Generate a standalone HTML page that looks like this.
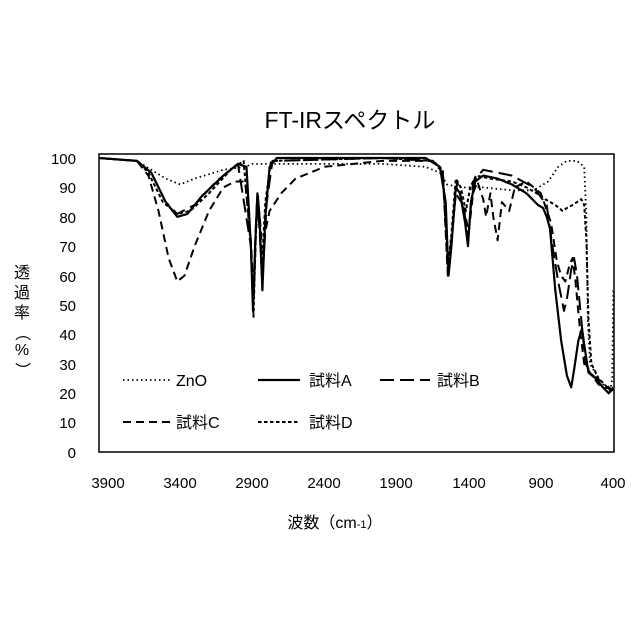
<!DOCTYPE html>
<html><head><meta charset="utf-8"><style>
body{margin:0;background:#fff;width:640px;height:640px;overflow:hidden}
svg{display:block}
text{font-family:"Liberation Sans","Noto Sans CJK JP",sans-serif;fill:#000}
</style></head><body>
<svg id="s" width="640" height="640" viewBox="0 0 640 640">
<rect x="99" y="154" width="515" height="298" fill="#fff" stroke="#000" stroke-width="1.5"/>
<text x="350" y="128" font-size="23" text-anchor="middle">FT-IRスペクトル</text>
<g font-size="15" text-anchor="end">
<text x="76" y="164">100</text><text x="76" y="193">90</text><text x="76" y="223">80</text><text x="76" y="252">70</text><text x="76" y="282">60</text><text x="76" y="311">50</text><text x="76" y="340">40</text><text x="76" y="370">30</text><text x="76" y="399">20</text><text x="76" y="428">10</text><text x="76" y="458">0</text>
</g>
<g font-size="15" text-anchor="middle">
<text x="108" y="488">3900</text><text x="180" y="488">3400</text><text x="252" y="488">2900</text><text x="324" y="488">2400</text><text x="396" y="488">1900</text><text x="469" y="488">1400</text><text x="541" y="488">900</text><text x="613" y="488">400</text>
</g>
<text x="335" y="528" font-size="16" text-anchor="middle">波数（cm<tspan font-size="11">-1</tspan>）</text>
<g font-size="16" text-anchor="middle">
<text x="22" y="278">透</text><text x="22" y="298">過</text><text x="22" y="318">率</text><text x="22" y="338" transform="rotate(90 22 333)">（</text><text x="22" y="355">%</text><text x="22" y="375" transform="rotate(90 22 370)">）</text>
</g>
<g stroke="#000" fill="none">
<line x1="123" y1="380" x2="170" y2="380" stroke-width="1.8" stroke-dasharray="1.5 3"/>
<line x1="258" y1="380" x2="300" y2="380" stroke-width="2.2"/>
<line x1="380" y1="380" x2="430" y2="380" stroke-width="2" stroke-dasharray="14 6"/>
<line x1="123" y1="422" x2="170" y2="422" stroke-width="2" stroke-dasharray="8 5"/>
<line x1="258" y1="422" x2="300" y2="422" stroke-width="2" stroke-dasharray="3.5 2.5"/>
</g>
<g font-size="16">
<text x="176" y="386">ZnO</text><text x="309" y="386">試料A</text><text x="437" y="386">試料B</text>
<text x="176" y="428">試料C</text><text x="309" y="428">試料D</text>
</g>
<g id="c" fill="none" stroke="#000" stroke-linejoin="round"></g>
</svg>
<script>
function X(w){return 108+(3900-w)*0.1443}
function Y(t){return 452-t*2.94}
var series=[
{d:"1.5 3",w:1.8,s:0,p:[[3960,100],[3700,99],[3600,96],[3500,93],[3400,91],[3300,93],[3100,96],[2950,97],[2900,98],[2500,98],[2000,98],[1700,97],[1600,95],[1550,91],[1450,90],[1300,90],[1100,89],[950,89],[850,92],[780,97],[720,99],[650,99],[600,97],[585,80],[575,45],[560,30],[500,25],[450,22],[420,21],[405,25],[398,55]]},
{d:"",w:2.2,p:[[3960,100],[3700,99],[3600,95],[3500,85],[3420,80],[3350,81],[3250,87],[3100,94],[3000,98],[2940,97],[2910,70],[2895,48],[2880,70],[2865,88],[2850,80],[2830,55],[2810,80],[2780,97],[2730,100],[2000,100],[1700,100],[1600,97],[1560,85],[1540,60],[1520,70],[1490,90],[1460,88],[1425,78],[1405,70],[1385,85],[1355,92],[1300,94],[1200,93],[1100,91],[1000,88],[920,84],[885,83],[860,80],[837,76],[800,55],[760,38],[720,26],[690,22],[670,28],[640,38],[615,42],[595,35],[570,27],[520,25],[470,22],[430,20],[410,21],[398,22]]},
{d:"14 6",w:2,p:[[3960,100],[3700,99],[3600,95],[3500,85],[3420,81],[3300,84],[3150,92],[3000,98],[2910,70],[2895,50],[2880,72],[2865,88],[2830,58],[2800,85],[2760,99],[2000,100],[1650,99],[1580,95],[1540,62],[1510,78],[1480,92],[1425,80],[1405,72],[1370,92],[1300,96],[1100,94],[950,90],[860,84],[820,70],[780,58],[740,48],[720,52],[690,62],[670,66],[650,60],[620,45],[590,30],[540,26],[480,24],[430,22],[398,21]]},
{d:"8 5",w:2,p:[[3960,100],[3700,99],[3620,94],[3550,82],[3480,66],[3420,58],[3370,60],[3300,70],[3200,82],[3100,90],[3020,92],[2950,92],[2910,72],[2890,52],[2875,75],[2860,86],[2840,75],[2830,60],[2810,75],[2780,82],[2700,88],[2600,93],[2400,97],[2200,98],[2000,99],[1650,99],[1580,95],[1545,60],[1520,72],[1490,88],[1440,84],[1400,75],[1370,88],[1340,92],[1300,86],[1280,80],[1250,88],[1230,80],[1200,72],[1170,85],[1120,82],[1080,90],[1000,92],[900,88],[830,78],[790,65],[760,60],[730,58],[700,64],[680,66],[660,58],[630,42],[600,30],[560,27],[500,23],[450,22],[398,21]]},
{d:"3.5 2.5",w:2,p:[[3960,100],[3700,99],[3620,95],[3520,85],[3420,81],[3330,82],[3200,88],[3050,96],[2960,99],[2910,70],[2892,46],[2875,75],[2860,87],[2835,62],[2810,85],[2770,99],[2000,100],[1650,99],[1580,96],[1545,62],[1520,74],[1490,93],[1455,90],[1420,82],[1390,90],[1350,94],[1250,93],[1100,92],[1000,90],[930,88],[870,86],[800,84],[750,82],[720,83],[680,84],[620,86],[600,84],[585,72],[570,45],[550,30],[500,25],[460,23],[420,21],[398,22]]}
];
var g=document.getElementById('c');
series.forEach(function(s){
 var e=document.createElementNS('http://www.w3.org/2000/svg','polyline');
 e.setAttribute('points',s.p.map(function(q){return X(q[0]).toFixed(1)+','+Y(q[1]).toFixed(1)}).join(' '));
 e.setAttribute('stroke-width',s.w);
 if(s.d)e.setAttribute('stroke-dasharray',s.d);
 g.appendChild(e);
});
</script>
</body></html>
